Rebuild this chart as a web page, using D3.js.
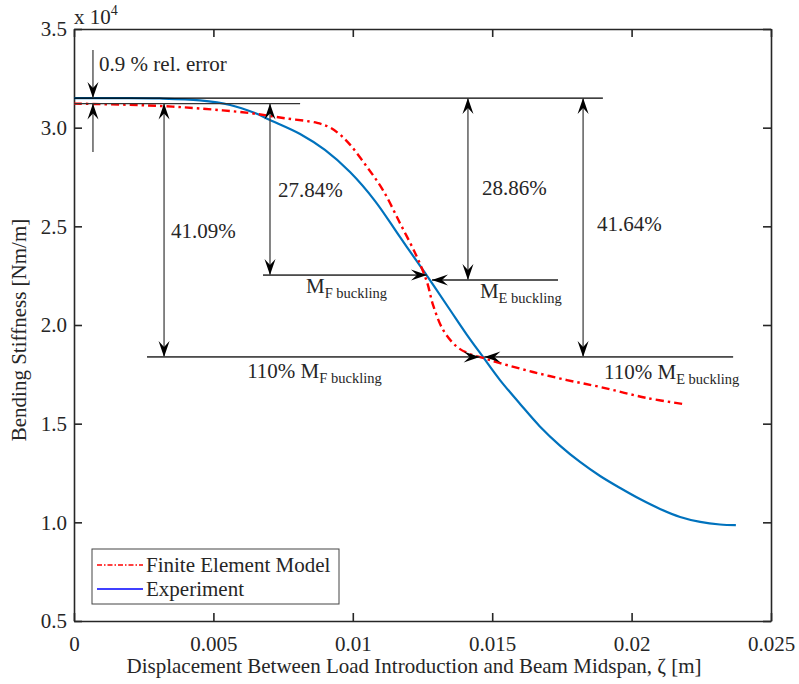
<!DOCTYPE html>
<html>
<head>
<meta charset="utf-8">
<script src="https://cdn.jsdelivr.net/npm/d3@7/dist/d3.min.js"></script>
<style>
  body { margin: 0; background: #fff; }
  text { font-family: "Liberation Serif", "Times New Roman", serif; fill: #262626; }
</style>
</head>
<body>
<svg id="chart"></svg>
<script>
// --- data (x in m, stiffness in 1e4 Nm/m) ---
const expX = [0, 0.00165, 0.00308, 0.00452, 0.00560, 0.00649, 0.00703, 0.00811, 0.00900, 0.00990,
  0.01080, 0.01169, 0.01259, 0.01349, 0.01410, 0.01467, 0.01528, 0.01600, 0.01671, 0.01743,
  0.01815, 0.01887, 0.01959, 0.02030, 0.02102, 0.02174, 0.02246, 0.02317, 0.02374];
const expY = [3.150, 3.150, 3.148, 3.138, 3.115, 3.074, 3.039, 2.968, 2.887, 2.775,
  2.628, 2.446, 2.264, 2.076, 1.949, 1.838, 1.721, 1.600, 1.486, 1.389,
  1.306, 1.235, 1.174, 1.118, 1.068, 1.027, 1.002, 0.989, 0.986];

const feX = [0, 0.00165, 0.00308, 0.00452, 0.00631, 0.00750, 0.00872, 0.00918, 0.00954, 0.00990,
  0.01051, 0.01108, 0.01169, 0.01230, 0.01266, 0.01288, 0.01324, 0.01374, 0.01420, 0.01467,
  0.01528, 0.01646, 0.01768, 0.01887, 0.02055, 0.02184];
const feY = [3.122, 3.117, 3.110, 3.097, 3.074, 3.049, 3.024, 3.001, 2.965, 2.914,
  2.801, 2.684, 2.517, 2.345, 2.218, 2.101, 1.975, 1.889, 1.853, 1.833,
  1.807, 1.762, 1.721, 1.686, 1.630, 1.600];

const xTicks = [0, 0.005, 0.01, 0.015, 0.02, 0.025];
const xTickLabels = ['0', '0.005', '0.01', '0.015', '0.02', '0.025'];
const yTicks = [0.5, 1.0, 1.5, 2.0, 2.5, 3.0, 3.5];
const yTickLabels = ['0.5', '1.0', '1.5', '2.0', '2.5', '3.0', '3.5'];

const seriesNames = ['Finite Element Model', 'Experiment'];

// annotation levels (stiffness) and positions (displacement)
const levelExp = 3.150, levelFE = 3.122, levelMF = 2.253, levelME = 2.228, level110 = 1.838;
// horizontal reference lines: [x0, x1, level]
const hLines = [
  [0, 0.01897, levelExp],
  [0, 0.00811, levelFE],
  [0.00678, 0.01266, levelMF],
  [0.01284, 0.01736, levelME],
  [0.00262, 0.01455, level110],
  [0.01472, 0.02364, level110]
];
// double arrows: [x, yFrom, yTo]
const vArrows = [
  [0.00323, levelFE, level110],
  [0.00703, levelFE, levelMF],
  [0.01413, levelExp, levelME],
  [0.01826, levelExp, level110]
];
// single arrows: [x0, y0, x1(tip), y1(tip)]
const sArrows = [
  [0.00068, 3.394, 0.00068, levelExp],
  [0.00068, 2.877, 0.00068, levelFE],
  [0.00678, levelMF, 0.01266, levelMF],
  [0.01736, levelME, 0.01284, levelME],
  [0.00262, level110, 0.01455, level110],
  [0.02364, level110, 0.01472, level110]
];
// labels: [x, y, main, sub]
const notes = [
  [0.00090, 3.287, '0.9 % rel. error', ''],
  [0.00732, 2.649, '27.84%', ''],
  [0.01463, 2.659, '28.86%', ''],
  [0.00348, 2.441, '41.09%', ''],
  [0.01876, 2.476, '41.64%', ''],
  [0.00832, 2.162, 'M', 'F buckling'],
  [0.01456, 2.137, 'M', 'E buckling'],
  [0.00621, 1.731, '110% M', 'F buckling'],
  [0.01901, 1.726, '110% M', 'E buckling']
];

const w = 799, h = 684;
const padL = 74, padR = 771, padT = 29, padB = 621;
const fs = 21;

const svg = d3.select('#chart').attr('width', w).attr('height', h);

const x = d3.scaleLinear().domain([0, 0.025]).range([padL, padR]);
const y = d3.scaleLinear().domain([0.5, 3.5]).range([padB, padT]);

// axes (ticks inside, box all round)
svg.append('g').attr('class', 'ax')
  .attr('transform', 'translate(0,' + padB + ')')
  .call(d3.axisBottom(x).tickValues(xTicks).tickFormat((d, i) => xTickLabels[i])
    .tickSizeInner(-8).tickSizeOuter(0).tickPadding(15));
svg.append('g').attr('class', 'ax')
  .attr('transform', 'translate(0,' + padT + ')')
  .call(d3.axisTop(x).tickValues(xTicks).tickFormat('').tickSizeInner(-8).tickSizeOuter(0));
svg.append('g').attr('class', 'ax')
  .attr('transform', 'translate(' + padL + ',0)')
  .call(d3.axisLeft(y).tickValues(yTicks).tickFormat((d, i) => yTickLabels[i])
    .tickSizeInner(-8).tickSizeOuter(0).tickPadding(7));
svg.append('g').attr('class', 'ax')
  .attr('transform', 'translate(' + padR + ',0)')
  .call(d3.axisRight(y).tickValues(yTicks).tickFormat('').tickSizeInner(-8).tickSizeOuter(0));

svg.selectAll('.ax path, .ax line').attr('stroke', '#262626').attr('stroke-width', 1.6);
svg.selectAll('.ax text').attr('font-size', fs).attr('fill', '#262626')
  .style('font-family', '"Liberation Serif", serif');

// exponent label
const ex = svg.append('text').attr('x', padL).attr('y', 24).attr('font-size', fs).text('x 10');
ex.append('tspan').attr('font-size', 14).attr('dy', -9).text('4');

// axis titles
svg.append('text')
  .attr('x', 414).attr('y', 673)
  .attr('text-anchor', 'middle').attr('font-size', fs)
  .text('Displacement Between Load Introduction and Beam Midspan, \u03B6 [m]');
svg.append('text')
  .attr('transform', 'translate(26,330) rotate(-90)')
  .attr('text-anchor', 'middle').attr('font-size', fs)
  .text('Bending Stiffness [Nm/m]');

// curves
const line = d3.line().x(d => x(d[0])).y(d => y(d[1])).curve(d3.curveCatmullRom.alpha(0.5));

svg.append('path')
  .attr('d', line(expX.map((v, i) => [v, expY[i]])))
  .attr('fill', 'none').attr('stroke', '#0072BD').attr('stroke-width', 2.2);

svg.append('path')
  .attr('d', line(feX.map((v, i) => [v, feY[i]])))
  .attr('fill', 'none').attr('stroke', '#FF0000').attr('stroke-width', 2.4)
  .attr('stroke-dasharray', '8,4,2.5,4');

// annotations
const ann = svg.append('g');
ann.selectAll('line.h').data(hLines).enter().append('line')
  .attr('x1', d => x(d[0])).attr('x2', d => x(d[1]))
  .attr('y1', d => y(d[2])).attr('y2', d => y(d[2]))
  .attr('stroke', (d, i) => i === 0 ? '#000' : '#333').attr('stroke-width', 1.2);

function head(tx, ty, ang) {
  ann.append('path')
    .attr('d', 'M0,0 L-16,-5.5 L-10,0 L-16,5.5 Z')
    .attr('transform', 'translate(' + tx + ',' + ty + ') rotate(' + ang + ')')
    .attr('fill', '#000');
}

vArrows.forEach(d => {
  const px = x(d[0]), p0 = y(d[1]), p1 = y(d[2]);
  ann.append('line').attr('x1', px).attr('x2', px).attr('y1', p0).attr('y2', p1)
    .attr('stroke', '#444').attr('stroke-width', 1.3);
  head(px, p0, p0 < p1 ? -90 : 90);
  head(px, p1, p1 > p0 ? 90 : -90);
});

sArrows.forEach(d => {
  const x0 = x(d[0]), y0 = y(d[1]), x1 = x(d[2]), y1 = y(d[3]);
  ann.append('line').attr('x1', x0).attr('x2', x1).attr('y1', y0).attr('y2', y1)
    .attr('stroke', '#444').attr('stroke-width', 1.3);
  head(x1, y1, Math.atan2(y1 - y0, x1 - x0) * 180 / Math.PI);
});

notes.forEach(d => {
  const t = ann.append('text').attr('x', x(d[0])).attr('y', y(d[1])).attr('font-size', fs).text(d[2]);
  if (d[3]) t.append('tspan').attr('font-size', 14.5).attr('dy', 5).text(d[3]);
});

// legend
const lg = svg.append('g');
lg.append('rect').attr('x', 92).attr('y', 549).attr('width', 247).attr('height', 55)
  .attr('fill', '#fff').attr('stroke', '#444').attr('stroke-width', 1);
const lgColors = ['#FF0000', '#0000FF'];
const lgDash = ['5,2,1.5,2', null];
seriesNames.forEach((n, i) => {
  const yy = 565 + i * 24;
  lg.append('line').attr('x1', 97).attr('x2', 143).attr('y1', yy).attr('y2', yy)
    .attr('stroke', lgColors[i]).attr('stroke-width', 1.3)
    .attr('stroke-dasharray', lgDash[i]);
  lg.append('text').attr('x', 146).attr('y', yy + 7).attr('font-size', fs).text(n);
});
</script>
</body>
</html>
